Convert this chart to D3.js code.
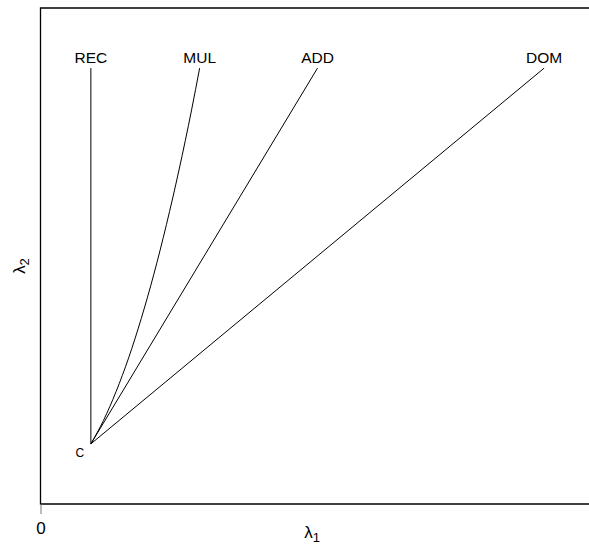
<!DOCTYPE html>
<html>
<head>
<meta charset="utf-8">
<script src="https://cdn.jsdelivr.net/npm/d3@7"></script>
<style>
  body { margin: 0; background: #fff; }
  svg { display: block; font-family: "Liberation Sans", Arial, sans-serif; }
</style>
</head>
<body>
<svg id="chart" width="589" height="550"></svg>
<script>
// model lines, all start at C = (1, 1)
const models = ["REC", "MUL", "ADD", "DOM"];
const recPts = [[1, 1], [1, 10]];
const mulPts = [[1, 1], [1.25, 1.56], [1.5, 2.25], [1.75, 3.06], [2, 4], [2.25, 5.06], [2.5, 6.25], [2.75, 7.56], [3, 9], [3.16, 10]];
const addPts = [[1, 1], [5.5, 10]];
const domPts = [[1, 1], [10, 10]];
const origin = [1, 1];
const xTicks = [0];

const svg = d3.select("#chart");

// xaxs="i" on x, 4% padding on y (ylim 0..11)
const x = d3.scaleLinear().domain([0, 11]).range([40.5, 594.5]);
const y = d3.scaleLinear().domain([-0.44, 11.44]).range([504, 8]);

const line = d3.line().x(d => x(d[0])).y(d => y(d[1]));
const curve = d3.line().x(d => x(d[0])).y(d => y(d[1])).curve(d3.curveMonotoneX);

// frame: left, bottom, top (right edge falls outside the window)
svg.append("path")
  .attr("d", `M${x(11)},${y(11.44)}H${x(0)}V${y(-0.44)}H${x(11)}`)
  .attr("fill", "none")
  .attr("stroke", "#000")
  .attr("stroke-width", 1.3);

// x axis with the single 0 tick
const xAxis = svg.append("g")
  .attr("transform", `translate(0,${y(-0.44)})`)
  .call(d3.axisBottom(x).tickValues(xTicks).tickSize(10).tickPadding(8).tickFormat(d3.format("d")));
xAxis.select(".domain").remove();
xAxis.selectAll("line").attr("stroke", "#777");
xAxis.selectAll("text").attr("font-size", 17).attr("fill", "#000").attr("font-family", "Liberation Sans, Arial, sans-serif");

const series = [recPts, mulPts, addPts, domPts];
series.forEach((pts, i) => {
  svg.append("path")
    .attr("d", i === 1 ? curve(pts) : line(pts))
    .attr("fill", "none")
    .attr("stroke", "#000")
    .attr("stroke-width", 1);

  const top = pts[pts.length - 1];
  svg.append("text")
    .attr("x", x(top[0]))
    .attr("y", y(top[1]) - 5.5)
    .attr("text-anchor", "middle")
    .attr("font-size", 15.5)
    .text(models[i]);
});

svg.append("text")
  .attr("x", x(origin[0]) - 11)
  .attr("y", y(origin[1]) + 13)
  .attr("text-anchor", "middle")
  .attr("font-size", 12)
  .text("C");

// axis titles
const xt = svg.append("text")
  .attr("x", 312)
  .attr("y", 538)
  .attr("text-anchor", "middle")
  .attr("font-size", 17);
xt.append("tspan").text("λ");
xt.append("tspan").attr("dy", 4).attr("font-size", 13).text("1");

const yt = svg.append("text")
  .attr("transform", "translate(25,266) rotate(-90)")
  .attr("text-anchor", "middle")
  .attr("font-size", 17);
yt.append("tspan").text("λ");
yt.append("tspan").attr("dy", 4).attr("font-size", 13).text("2");
</script>
</body>
</html>
